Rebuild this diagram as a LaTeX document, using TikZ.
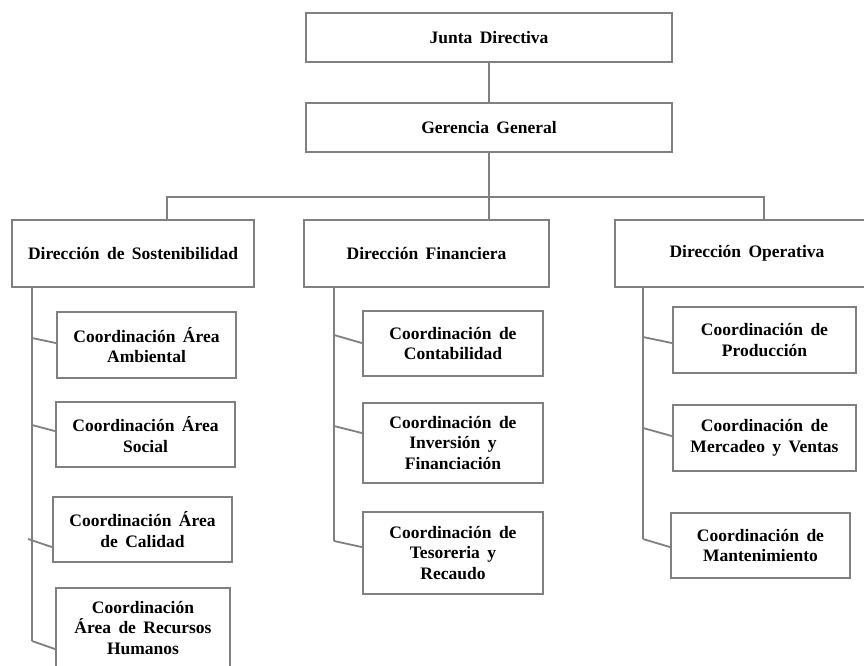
\documentclass[tikz,border=0pt]{standalone}
\usepackage{fontspec}
\setmainfont{Liberation Serif}[WordSpace=1.7]
\usetikzlibrary{calc}
\definecolor{linegray}{RGB}{128,128,128}
\tikzset{
  box/.style={draw=linegray, line width=1.8pt, fill=white, align=center,
    font=\fontsize{17.5}{20.5}\selectfont\bfseries, inner sep=0pt},
  link/.style={draw=linegray, line width=1.8pt},
  thinlink/.style={draw=linegray, line width=1.4pt},
}
\begin{document}
\begin{tikzpicture}[x=1pt,y=-1pt]
\clip (0,0) rectangle (864,666);
\fill[white] (0,0) rectangle (864,666);

% top levels
\node[box, minimum width=366, minimum height=49] (jd) at (489,37.5) {Junta Directiva};
\node[box, minimum width=366, minimum height=49] (gg) at (489,127.5) {Gerencia General};

% directions
\node[box, minimum width=242, minimum height=67] (ds) at (133,253.5) {Dirección de Sostenibilidad};
\node[box, minimum width=245, minimum height=67] (df) at (426.5,253.5) {Dirección Financiera};
\node[box, minimum width=270, minimum height=67] (do) at (750,253.5) {\hspace*{-6pt}Dirección Operativa};

% coordinations: sustainability
\node[box, minimum width=179, minimum height=66] (amb) at (146.5,345) {Coordinación Área\\Ambiental};
\node[box, minimum width=179, minimum height=65] (soc) at (145.5,434.5) {Coordinación Área\\Social};
\node[box, minimum width=179, minimum height=65] (cal) at (142.5,529.5) {Coordinación Área\\de Calidad};
\node[box, minimum width=174, minimum height=80] (rrh) at (143,628) {Coordinación\\Área de Recursos\\Humanos};

% coordinations: finance
\node[box, minimum width=180, minimum height=65] (con) at (453,343.5) {Coordinación de\\Contabilidad};
\node[box, minimum width=180, minimum height=80] (inv) at (453,443) {Coordinación de\\Inversión y\\Financiación};
\node[box, minimum width=180, minimum height=82] (tes) at (453,553) {Coordinación de\\Tesoreria y\\Recaudo};

% coordinations: operations
\node[box, minimum width=183, minimum height=66] (pro) at (764.5,340) {Coordinación de\\Producción};
\node[box, minimum width=183, minimum height=66] (mer) at (764.5,438) {Coordinación de\\Mercadeo y Ventas};
\node[box, minimum width=179, minimum height=65] (man) at (760.5,545.5) {Coordinación de\\Mantenimiento};

% upper connectors
\draw[link] (jd.south) -- (gg.north);
\coordinate (dsTop) at (167,220);
\coordinate (doTop) at (764,220);
\draw[thinlink] (gg.south) -- (gg.south |- df.north);
\draw[link] (dsTop) -- ++(0,-23) -| (doTop);

% spines
\coordinate (dsS) at (32,287);
\coordinate (dsE) at (32,641);
\coordinate (dfS) at (334,287);
\coordinate (dfE) at (334,541);
\coordinate (doS) at (643,287);
\coordinate (doE) at (643,539);
\draw[link] (dsS) -- (dsE);
\draw[link] (dfS) -- (dfE);
\draw[link] (doS) -- (doE);

% branches
\coordinate (bAmb) at (32,338);
\coordinate (bSoc) at (32,425);
\coordinate (bCal) at (28,539);
\coordinate (bCon) at (334,335);
\coordinate (bInv) at (334,426);
\coordinate (bPro) at (643,337);
\coordinate (bMer) at (643,428);
\draw[link] (bAmb) -- ($(amb.north west)+(0,32)$);
\draw[link] (bSoc) -- ($(soc.north west)+(0,30)$);
\draw[link] (bCal) -- ($(cal.north west)+(0,51)$);
\draw[link] (dsE) -- ($(rrh.north west)+(0,62)$);
\draw[link] (bCon) -- ($(con.north west)+(0,33)$);
\draw[link] (bInv) -- ($(inv.north west)+(0,31)$);
\draw[link] (dfE) -- ($(tes.north west)+(0,36)$);
\draw[link] (bPro) -- ($(pro.north west)+(0,37)$);
\draw[link] (bMer) -- ($(mer.north west)+(0,32)$);
\draw[link] (doE) -- ($(man.north west)+(0,35)$);
\end{tikzpicture}
\end{document}
